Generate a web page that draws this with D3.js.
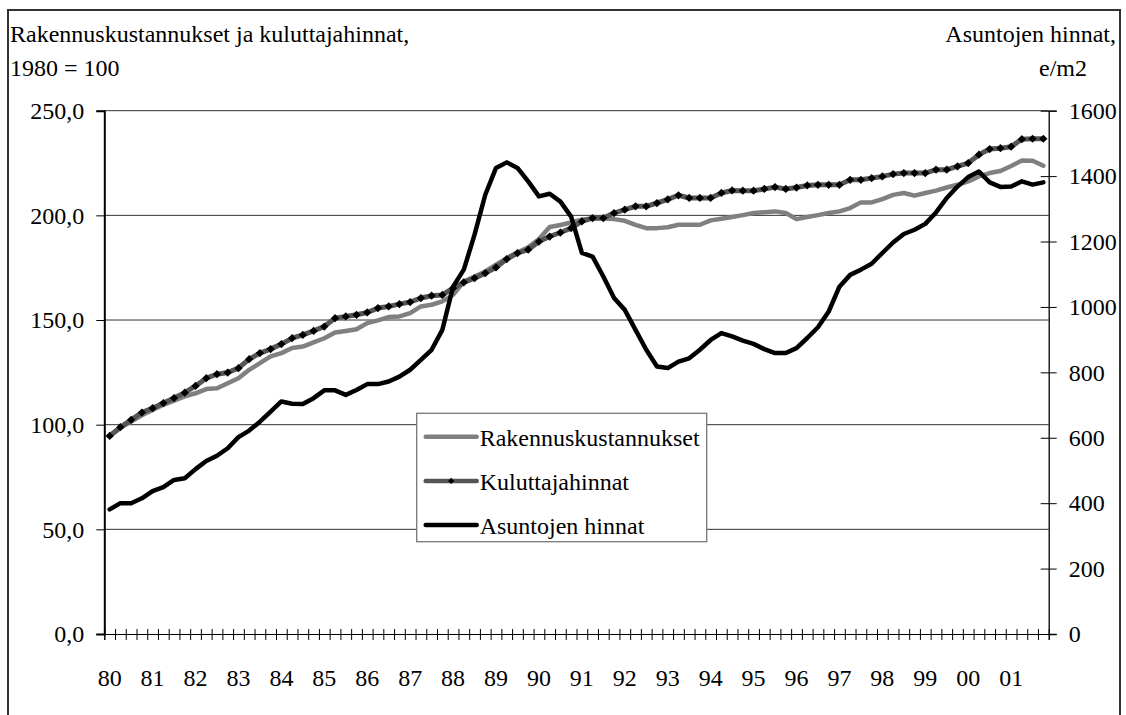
<!DOCTYPE html>
<html>
<head>
<meta charset="utf-8">
<script src="https://cdn.jsdelivr.net/npm/d3@7"></script>
<style>
  body { margin: 0; background: #fff; }
  text { font-family: "Liberation Serif", "Times New Roman", serif; fill: #000; }
</style>
</head>
<body>
<svg id="chart" width="1126" height="715"></svg>
<script>
// year labels, one per 4 quarters (1980 Q1 .. 2001 Q4)
var years = ["80","81","82","83","84","85","86","87","88","89","90","91","92","93","94","95","96","97","98","99","00","01"];

var left_ticks = [0, 50, 100, 150, 200, 250];
var right_ticks = [0, 200, 400, 600, 800, 1000, 1200, 1400, 1600];

// Rakennuskustannukset, 1980 = 100
var rakennus = [94.6, 98.5, 101.5, 104.5, 107, 109.5, 111.5, 113.5, 115.0, 117.0, 117.4, 119.8,
  122.2, 126.2, 129.4, 132.6, 134.2, 136.6, 137.3, 139.3, 141.3, 144.0, 144.8, 145.6,
  148.5, 149.8, 151.4, 151.7, 153.3, 156.5, 157.3, 158.9, 162.0, 168.4, 170.8, 173.2,
  176.4, 179.6, 182.3, 184.8, 188.7, 194.4, 195.4, 196.6, 197.9, 198.5, 198.5, 198.2,
  197.4, 195.5, 193.9, 193.9, 194.3, 195.5, 195.5, 195.5, 197.6, 198.4, 199.2, 200.1,
  201.1, 201.5, 201.9, 201.1, 198.2, 199.2, 200.1, 201.1, 201.9, 203.5, 206.2, 206.2,
  207.8, 209.8, 210.7, 209.4, 210.7, 211.8, 213.3, 214.6, 216.2, 218.6, 220.2, 221.2,
  223.6, 226.2, 226.1, 223.7];

// Kuluttajahinnat, 1980 = 100
var kuluttaja = [94.6, 98.8, 102.3, 105.8, 107.9, 110.3, 112.7, 115.3, 118.5, 122.2, 124.1, 124.9,
  127.0, 131.3, 134.2, 136.1, 138.5, 141.3, 142.9, 144.8, 146.9, 150.9, 151.7, 152.5,
  153.6, 155.7, 156.5, 157.6, 158.6, 160.5, 161.6, 162.0, 165.2, 168.0, 170.0, 172.4,
  175.1, 179.1, 182.0, 183.6, 187.5, 189.9, 191.8, 193.9, 197.1, 198.7, 198.7, 201.1,
  202.7, 204.3, 204.3, 205.9, 207.6, 209.6, 208.3, 208.3, 208.3, 210.7, 211.9, 211.8,
  211.8, 212.6, 213.5, 212.6, 213.3, 214.3, 214.6, 214.6, 214.6, 217.0, 217.0, 217.8,
  218.6, 219.7, 220.2, 220.2, 220.2, 221.8, 221.8, 223.4, 225.0, 229.0, 231.7, 232.1,
  232.8, 236.4, 236.6, 236.6];

// Asuntojen hinnat, e/m2 (right axis)
var asunnot = [381, 400, 400, 415, 437, 449, 471, 476, 504, 529, 545, 568,
  602, 622, 649, 680, 711, 704, 703, 721, 745, 745, 731, 746,
  764, 764, 772, 787, 808, 838, 869, 930, 1062, 1114, 1221, 1343,
  1425, 1442, 1425, 1384, 1338, 1346, 1322, 1276, 1165, 1154, 1093, 1027,
  991, 930, 869, 818, 813, 833, 843, 869, 899, 920, 910, 897,
  887, 871, 859, 859, 874, 905, 938, 986, 1062, 1098, 1114, 1132,
  1165, 1197, 1223, 1236, 1254, 1289, 1333, 1368, 1397, 1414, 1381, 1367,
  1368, 1384, 1374, 1381];

var svg = d3.select("#chart");

var plot = {left: 104.3, right: 1048.7, top: 110.7, bottom: 634};
var n = rakennus.length;

var x = d3.scaleLinear().domain([0, n]).range([plot.left, plot.right]);
var y_left = d3.scaleLinear().domain([0, 250]).range([plot.bottom, plot.top]);
var y_right = d3.scaleLinear().domain([0, 1600]).range([plot.bottom, plot.top]);

// outer frame
svg.append("rect")
  .attr("x", 8).attr("y", 10)
  .attr("width", 1112).attr("height", 720)
  .attr("fill", "none")
  .attr("stroke", "#333")
  .attr("stroke-width", 2);

// titles
svg.append("text").attr("x", 10).attr("y", 42).attr("font-size", "24px")
  .text("Rakennuskustannukset ja kuluttajahinnat,");
svg.append("text").attr("x", 10).attr("y", 76).attr("font-size", "24px")
  .text("1980 = 100");
svg.append("text").attr("x", 1116).attr("y", 42).attr("font-size", "24px")
  .attr("text-anchor", "end").text("Asuntojen hinnat,");
svg.append("text").attr("x", 1087).attr("y", 76).attr("font-size", "24px")
  .attr("text-anchor", "end").text("e/m2");

// gridlines
svg.append("g").selectAll("line")
  .data(left_ticks.filter(function(d){ return d > 0; }))
  .enter().append("line")
  .attr("x1", plot.left).attr("x2", plot.right)
  .attr("y1", function(d){ return y_left(d); })
  .attr("y2", function(d){ return y_left(d); })
  .attr("stroke", "#333")
  .attr("stroke-width", 1);

// left axis
var left_axis = d3.axisLeft(y_left)
  .tickValues(left_ticks)
  .tickSize(8)
  .tickPadding(12)
  .tickFormat(function(d){ return d3.format(".1f")(d).replace(".", ","); });
var gl = svg.append("g").attr("transform", "translate(" + plot.left + ",0)").call(left_axis);
gl.select(".domain").attr("stroke", "#000").attr("stroke-width", 2);
gl.selectAll("text").attr("font-size", "24px").attr("font-family", "Liberation Serif");

// right axis, cross ticks
var right_axis = d3.axisRight(y_right)
  .tickValues(right_ticks)
  .tickSize(8)
  .tickPadding(12)
  .tickFormat(d3.format("d"));
var gr = svg.append("g").attr("transform", "translate(" + plot.right + ",0)").call(right_axis);
gr.select(".domain").attr("stroke", "#000").attr("stroke-width", 1.3);
gr.selectAll(".tick line").attr("x1", -8).attr("stroke", "#000");
gr.selectAll("text").attr("font-size", "24px").attr("font-family", "Liberation Serif");

// bottom axis: a tick between every quarter
var bottom_axis = d3.axisBottom(x)
  .tickValues(d3.range(n + 1))
  .tickSize(6)
  .tickFormat("");
var gb = svg.append("g").attr("transform", "translate(0," + plot.bottom + ")").call(bottom_axis);
gb.select(".domain").attr("stroke", "#000");
gb.selectAll(".tick line").attr("y1", -5).attr("stroke", "#000");

svg.append("g").selectAll("text")
  .data(years)
  .enter().append("text")
  .attr("x", function(d, i){ return x(i * 4 + 0.5); })
  .attr("y", 686)
  .attr("text-anchor", "middle")
  .attr("font-size", "24px")
  .text(function(d){ return d; });

// lines
var line_left = d3.line()
  .x(function(d, i){ return x(i + 0.5); })
  .y(function(d){ return y_left(d); });
var line_right = d3.line()
  .x(function(d, i){ return x(i + 0.5); })
  .y(function(d){ return y_right(d); });

svg.append("path").datum(rakennus)
  .attr("d", line_left)
  .attr("fill", "none")
  .attr("stroke", "#808080")
  .attr("stroke-width", 4.5)
  .attr("stroke-linejoin", "round")
  .attr("stroke-linecap", "round");

svg.append("path").datum(kuluttaja)
  .attr("d", line_left)
  .attr("fill", "none")
  .attr("stroke", "#555")
  .attr("stroke-width", 5)
  .attr("stroke-linejoin", "round")
  .attr("stroke-linecap", "round");

var diamond = d3.symbol().type(d3.symbolSquare).size(34);
svg.append("g").selectAll("path")
  .data(kuluttaja)
  .enter().append("path")
  .attr("d", diamond)
  .attr("transform", function(d, i){
    return "translate(" + x(i + 0.5) + "," + y_left(d) + ") rotate(45)";
  })
  .attr("fill", "#000");

svg.append("path").datum(asunnot)
  .attr("d", line_right)
  .attr("fill", "none")
  .attr("stroke", "#000")
  .attr("stroke-width", 4.5)
  .attr("stroke-linejoin", "round")
  .attr("stroke-linecap", "round");

// legend
var legend_items = [
  {name: "Rakennuskustannukset", color: "#808080", marker: false},
  {name: "Kuluttajahinnat", color: "#555", marker: true},
  {name: "Asuntojen hinnat", color: "#000", marker: false}
];
var legend = svg.append("g").attr("transform", "translate(416.7,413.3)");
legend.append("rect")
  .attr("width", 290).attr("height", 128.4)
  .attr("fill", "#fff")
  .attr("stroke", "#777")
  .attr("stroke-width", 1.3);
legend_items.forEach(function(item, i){
  var cy = 23.4 + i * 44.2;
  legend.append("line")
    .attr("x1", 9).attr("x2", 60)
    .attr("y1", cy).attr("y2", cy)
    .attr("stroke", item.color)
    .attr("stroke-width", 4.5)
    .attr("stroke-linecap", "round");
  if (item.marker) {
    legend.append("path")
      .attr("d", d3.symbol().type(d3.symbolSquare).size(20))
      .attr("transform", "translate(34.5," + cy + ") rotate(45)")
      .attr("fill", "#000");
  }
  legend.append("text")
    .attr("x", 63)
    .attr("y", cy + 9)
    .attr("font-size", "24px")
    .text(item.name);
});
</script>
</body>
</html>
